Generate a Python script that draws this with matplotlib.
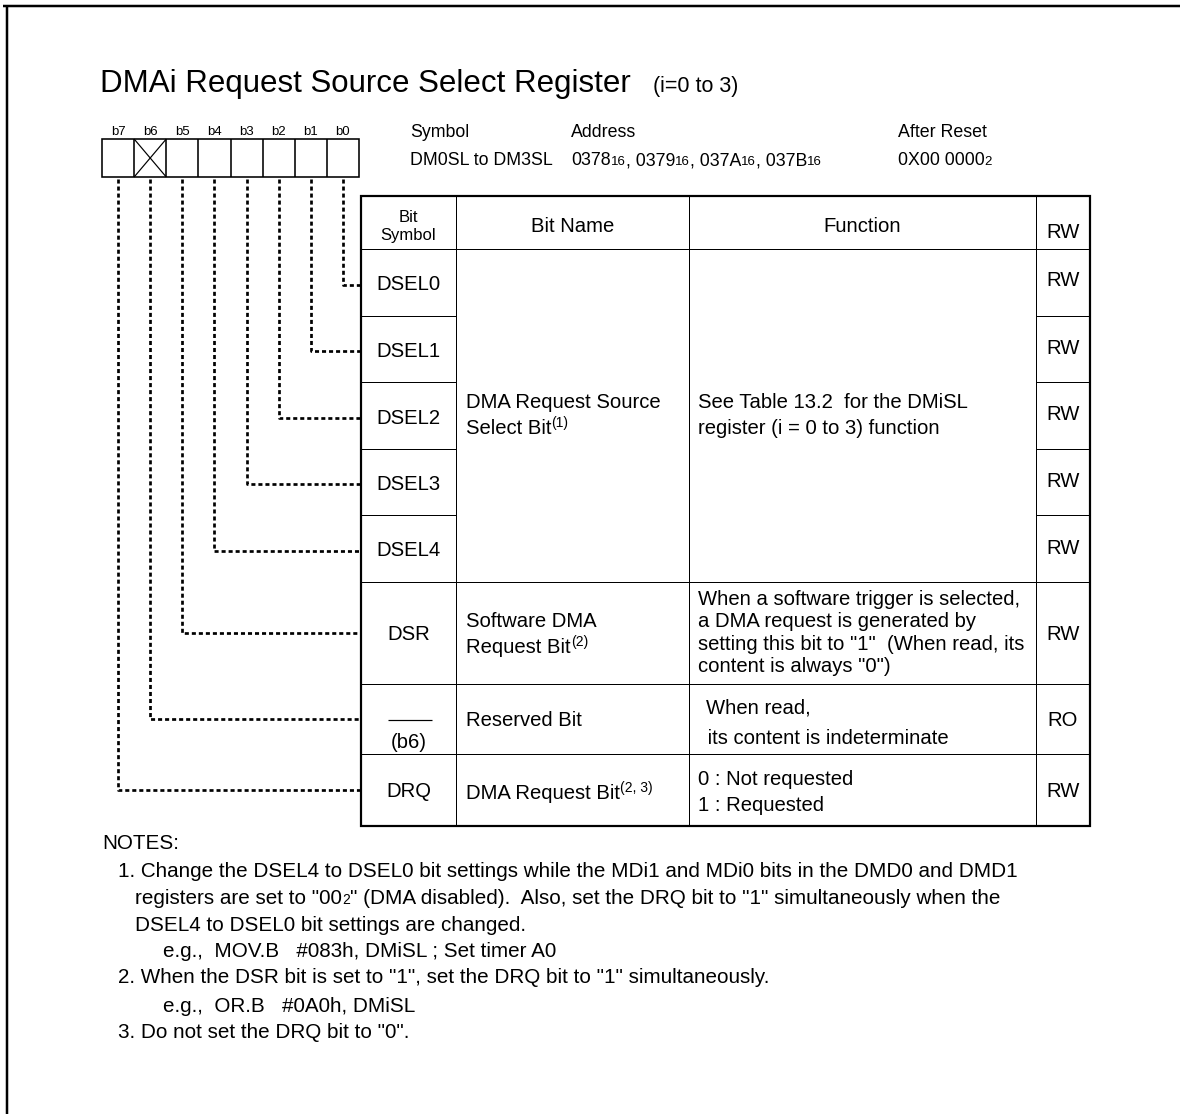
import matplotlib
matplotlib.use("Agg")
import matplotlib.pyplot as plt

plt.rcParams["font.family"] = ["Liberation Sans", "DejaVu Sans"]

W, H = 1180, 1114
PT = 72 / 100  # px -> pt at dpi 100

title = "DMAi Request Source Select Register"
title_sub = "(i=0 to 3)"
bit_labels = ["b7", "b6", "b5", "b4", "b3", "b2", "b1", "b0"]
reserved_bits = ["b6"]
header_cols = ["Symbol", "Address", "After Reset"]
symbol_text = "DM0SL to DM3SL"
addresses = ["0378", "0379", "037A", "037B"]
after_reset = "0X00 0000"

col_headers = [["Bit", "Symbol"], "Bit Name", "Function", "RW"]
bit_symbols = ["DSEL0", "DSEL1", "DSEL2", "DSEL3", "DSEL4", "DSR", "", "DRQ"]
row_bit = ["b0", "b1", "b2", "b3", "b4", "b5", "b6", "b7"]
rw_values = ["RW", "RW", "RW", "RW", "RW", "RW", "RO", "RW"]
name_dsel = ["DMA Request Source", ("Select Bit", "(1)")]
func_dsel = ["See Table 13.2  for the DMiSL", "register (i = 0 to 3) function"]
name_dsr = ["Software DMA", ("Request Bit", "(2)")]
func_dsr = ["When a software trigger is selected,", "a DMA request is generated by",
            "setting this bit to \"1\"  (When read, its", "content is always \"0\")"]
name_res = "Reserved Bit"
func_res = ["When read,", " its content is indeterminate"]
name_drq = ("DMA Request Bit", "(2, 3)")
func_drq = ["0 : Not requested", "1 : Requested"]

notes = [
    "NOTES:",
    "1. Change the DSEL4 to DSEL0 bit settings while the MDi1 and MDi0 bits in the DMD0 and DMD1",
    ("registers are set to \"00", "2", "\" (DMA disabled).  Also, set the DRQ bit to \"1\" simultaneously when the"),
    "DSEL4 to DSEL0 bit settings are changed.",
    "e.g.,  MOV.B   #083h, DMiSL ; Set timer A0",
    "2. When the DSR bit is set to \"1\", set the DRQ bit to \"1\" simultaneously.",
    "e.g.,  OR.B   #0A0h, DMiSL",
    "3. Do not set the DRQ bit to \"0\".",
]
note_x = [102, 118, 135, 135, 163, 118, 163, 118]
note_y = [849, 877, 904, 931, 957, 983, 1012, 1038]

fig = plt.figure(figsize=(W / 100, H / 100), dpi=100)
ax = fig.add_axes([0, 0, 1, 1])
ax.set_xlim(0, W)
ax.set_ylim(H, 0)
ax.axis("off")
renderer = fig.canvas.get_renderer()

BODY = 14.6
NOTE = 14.9


def txt(x, y, s, size=BODY, ha="left", **kw):
    return ax.text(x, y, s, fontsize=size, ha=ha, va="baseline", **kw)


def runs(x, y, parts):
    # parts: (text, size, rise in px)
    cur = x
    for s, size, rise in parts:
        t = ax.text(cur, y - rise, s, fontsize=size, ha="left", va="baseline")
        cur += t.get_window_extent(renderer).width
    return cur


def line(xs, ys, lw=1.0, **kw):
    ax.plot(xs, ys, color="black", lw=lw * PT, solid_capstyle="butt", **kw)


# outer frame (top and left)
line([3, W], [5.5, 5.5], lw=2.5)
line([7, 7], [5, H], lw=2.5)

# title
end = runs(100, 92, [(title, 22.5, 0)])
runs(end + 22, 92, [(title_sub, 15.5, 0)])

# bit boxes
bx0, bx1, by0, by1 = 102, 359, 139, 177
cw = (bx1 - bx0) / len(bit_labels)
centers = {}
for i, b in enumerate(bit_labels):
    cx = bx0 + cw * (i + 0.5)
    centers[b] = cx
    txt(cx, 135, b, size=9.5, ha="center")
    if b in reserved_bits:
        line([bx0 + cw * i, bx0 + cw * (i + 1)], [by0, by1], lw=1.2)
        line([bx0 + cw * i, bx0 + cw * (i + 1)], [by1, by0], lw=1.2)
ax.add_patch(plt.Rectangle((bx0, by0), bx1 - bx0, by1 - by0, fill=False, lw=1.6 * PT))
for i in range(1, len(bit_labels)):
    line([bx0 + cw * i] * 2, [by0, by1], lw=1.6)

# symbol / address / after reset
hx = [410, 571, 898]
for x, s in zip(hx, header_cols):
    txt(x, 137, s, size=12.8)
txt(hx[0], 165, symbol_text, size=12.8)
parts = []
for i, a in enumerate(addresses):
    parts.append(((", " if i else "") + a, 12.8, 0))
    parts.append(("16", 9.5, 0))
runs(hx[1], 165, parts)
runs(hx[2], 165, [(after_reset, 12.8, 0), ("2", 9.5, 0)])

# table geometry
tx = [361, 456, 689, 1036, 1090]
ty = [196, 249, 316, 382, 449, 515, 582, 684, 754, 826]
sym_c = (tx[0] + tx[1]) / 2
rw_c = (tx[3] + tx[4]) / 2
name_x = tx[1] + 10
func_x = tx[2] + 9

# grid lines
line([tx[0], tx[4]], [ty[1], ty[1]])
for j in range(2, len(ty) - 1):
    if j <= 5:
        line([tx[0], tx[1]], [ty[j]] * 2)
        line([tx[3], tx[4]], [ty[j]] * 2)
    else:
        line([tx[0], tx[4]], [ty[j]] * 2)
for x in tx[1:4]:
    line([x, x], [ty[0], ty[-1]])
ax.add_patch(plt.Rectangle((tx[0], ty[0]), tx[4] - tx[0], ty[-1] - ty[0],
                           fill=False, lw=2.2 * PT, joinstyle="miter"))

# header
txt(sym_c, 222, col_headers[0][0], size=12, ha="center")
txt(sym_c, 240, col_headers[0][1], size=12, ha="center")
txt((tx[1] + tx[2]) / 2, 232, col_headers[1], ha="center")
txt((tx[2] + tx[3]) / 2, 232, col_headers[2], ha="center")
txt(rw_c, 238, col_headers[3], ha="center")

# rows
row_mid = [(ty[k + 1] + ty[k + 2]) / 2 for k in range(len(bit_symbols))]
rw_dy = [4, 5, 5, 5, 5, 7, 7, 7]
for k, (s, rw) in enumerate(zip(bit_symbols, rw_values)):
    yb = row_mid[k] + 7
    if s:
        txt(sym_c, yb + (1 if k < 5 else 0), s, ha="center")
    txt(rw_c, row_mid[k] + rw_dy[k], rw, ha="center")

# DSEL merged cells
txt(name_x, 408, name_dsel[0])
runs(name_x, 434, [(name_dsel[1][0], BODY, 0), (name_dsel[1][1], 10, 7)])
txt(func_x, 408, func_dsel[0])
txt(func_x, 434, func_dsel[1])

# DSR
txt(name_x, 627, name_dsr[0])
runs(name_x, 653, [(name_dsr[1][0], BODY, 0), (name_dsr[1][1], 10, 7)])
for s, yb in zip(func_dsr, [605, 627, 650, 672]):
    txt(func_x, yb, s)

# reserved
line([388, 432], [720, 720], lw=1.2)
txt(sym_c, 748, "(b6)", ha="center")
txt(name_x, 726, name_res)
txt(func_x + 8, 714, func_res[0])
txt(func_x + 4, 744, func_res[1])

# DRQ
runs(name_x, 799, [(name_drq[0], BODY, 0), (name_drq[1], 10, 7)])
txt(func_x, 785, func_drq[0])
txt(func_x, 811, func_drq[1])

# dashed connectors
dash = dict(ls=(0, (1.5, 1.1)), dash_capstyle="butt")
for k, b in enumerate(row_bit):
    cx = centers[b]
    ym = row_mid[k] + (2 if k < 5 else 0)
    line([cx, cx, tx[0] - 1], [by1 + 2, ym, ym], lw=2.7, **dash)

# notes
for x, yb, n in zip(note_x, note_y, notes):
    if isinstance(n, tuple):
        runs(x, yb, [(n[0], NOTE, 0), (n[1], 10, 0), (n[2], NOTE, 0)])
    else:
        txt(x, yb, n, size=NOTE)

fig.savefig("out.png", dpi=100)
